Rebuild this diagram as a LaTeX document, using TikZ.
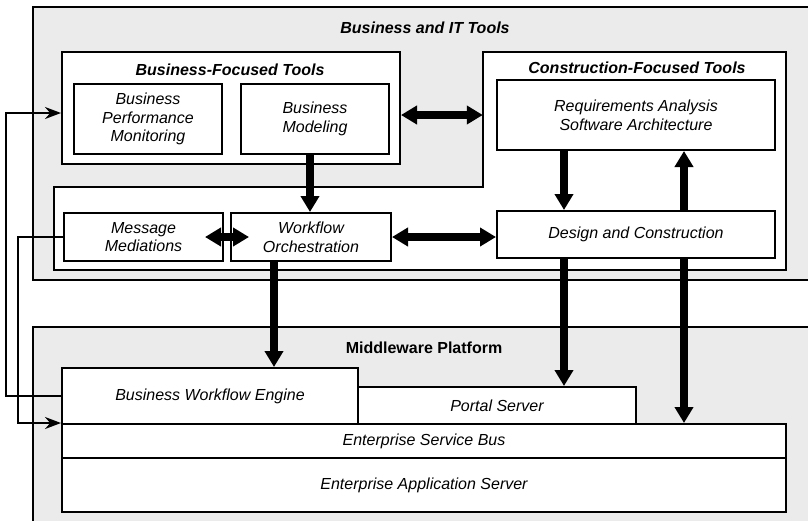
\documentclass[tikz,border=0pt]{standalone}
\usepackage{fontspec}
\setmainfont{Liberation Sans}
\usetikzlibrary{arrows.meta, positioning}

\begin{document}
\begin{tikzpicture}[x=1pt, y=-1pt, >={Triangle[width=18pt,length=16pt]},
    every node/.style={font=\fontsize{16}{18.7}\selectfont},
    area/.style={draw, line width=2pt, fill=black!8, inner sep=0pt},
    tools/.style={draw, line width=2pt, fill=white, inner sep=0pt},
    box/.style={draw, line width=2pt, fill=white, align=center, inner sep=0pt,
                font=\fontsize{16}{18.7}\selectfont\itshape},
    heading/.style={font=\fontsize{16}{18.7}\selectfont\bfseries\itshape},
    flow/.style={->, line width=7.5pt},
    link/.style={-{Stealth[length=16pt,width=12pt]}, line width=2pt}]
  \useasboundingbox (0,0) rectangle (808,520);

  % Business and IT tools
  \node[area, minimum width=800pt, minimum height=273pt] (it) at (433,143.5) {};
  \node[heading] (ittitle) at (425,28) {Business and IT Tools};

  \node[tools, minimum width=338pt, minimum height=112pt] (bft) at (231,108) {};
  \node[heading] (bfttitle) at (230,70) {Business-Focused Tools};
  \node[box, minimum width=148pt, minimum height=70pt] (bpm) at (148,119) {Business\\Performance\\Monitoring};
  \node[box, minimum width=148pt, minimum height=70pt] (bmod) at (315,119) {Business\\Modeling};

  \draw[tools] (54,187) -- (483,187) -- (483,52) -- (786,52) -- (786,270) -- (54,270) -- cycle;
  \node[minimum width=303pt, minimum height=218pt, inner sep=0pt] (cft) at (634.5,161) {};
  \node[heading] (cfttitle) at (637,68) {Construction-Focused Tools};
  \node[box, minimum width=278pt, minimum height=70pt] (req) at (636,115) {Requirements Analysis\\Software Architecture};
  \node[box, minimum width=159pt, minimum height=48pt] (msg) at (143.5,237) {Message\\Mediations};
  \node[box, minimum width=160pt, minimum height=48pt] (wfo) at (311,237) {Workflow\\Orchestration};
  \node[box, minimum width=278pt, minimum height=47pt] (dac) at (636,234.5) {Design and Construction};

  % Middleware platform
  \node[area, minimum width=800pt, minimum height=210pt] (mw) at (433,432) {};
  \node[font=\fontsize{16}{18.7}\selectfont\bfseries] (mwtitle) at (424,348) {Middleware Platform};
  \node[box, minimum width=296pt, minimum height=56pt] (bwe) at (210,396) {Business Workflow Engine};
  \node[box, minimum width=278pt, minimum height=37pt] (ps) at (497,405.5) {Portal Server};
  \node[box, minimum width=724pt, minimum height=34pt] (esb) at (424,441) {Enterprise Service Bus};
  \node[box, minimum width=724pt, minimum height=54pt] (eas) at (424,485) {Enterprise Application Server};

  % Arrows
  \coordinate (xa) at (564,0);
  \coordinate (xb) at (684,0);
  \coordinate (xc) at (274,0);
  \coordinate (xd) at (310,0);

  \draw[flow] (bmod.south -| xd) -- (wfo.north -| xd);
  \draw[flow, <->] (bft.east |- req.west) -- (cft.west |- req.west);
  \draw[flow, <->] ([xshift=-19pt]msg.east) -- ([xshift=19pt]wfo.west);
  \draw[flow, <->] (wfo.east) -- (wfo.east -| dac.west);
  \draw[flow] (req.south -| xa) -- (dac.north -| xa);
  \draw[flow] (dac.north -| xb) -- (req.south -| xb);
  \draw[flow] (dac.south -| xa) -- (ps.north -| xa);
  \draw[flow] (dac.south -| xb) -- (esb.north -| xb);
  \draw[flow] (wfo.south -| xc) -- (bwe.north -| xc);

  \draw[link] (bwe.west) -- ++(-55,0) |- ([yshift=-5pt]bft.west);
  \draw[link] (msg.west) -- ++(-45,0) |- ([yshift=2pt]bwe.south west);
\end{tikzpicture}
\end{document}
